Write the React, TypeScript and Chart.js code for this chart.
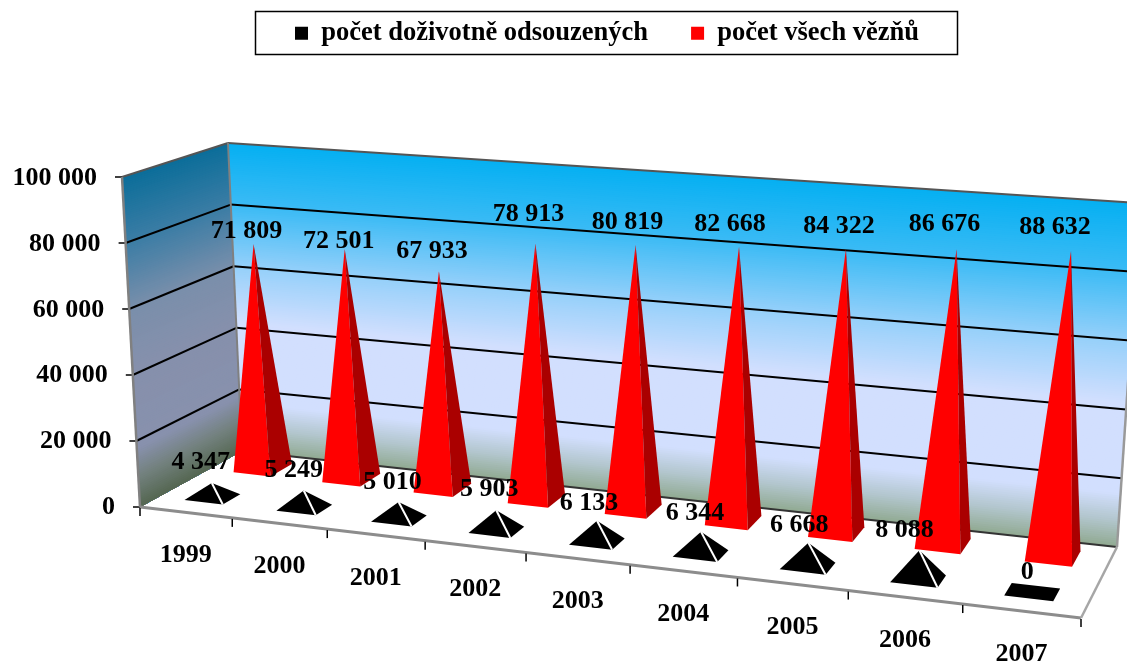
import React, { useEffect, useRef } from "react";
import { Chart, registerables, BarController } from "chart.js";

const years = ["1999", "2000", "2001", "2002", "2003", "2004", "2005", "2006", "2007"];
const lifers = [4347, 5249, 5010, 5903, 6133, 6344, 6668, 8088, 0];
const prisoners = [71809, 72501, 67933, 78913, 80819, 82668, 84322, 86676, 88632];

const FONT = "bold 26px 'Liberation Serif'";
const W = 1127;
const H = 664;

// corners of the 3D box on the canvas
const F0 = [140, 507], F1 = [1081, 618], B1 = [1117, 547], B0 = [242, 451];
const T0 = [122, 177], T1 = [1105, 248], TB1 = [1140, 203], TB0 = [228, 143];
const PERSPECTIVE = 1.15;
const APEX_SCALE = 0.992;

const lerp = (a: number[], b: number[], k: number) => [a[0] + (b[0] - a[0]) * k, a[1] + (b[1] - a[1]) * k];
function project(u: number, v: number, h: number) {
  const t = u / (u + PERSPECTIVE * (1 - u));
  const floor = lerp(lerp(F0, F1, t), lerp(B0, B1, t), v);
  const top = lerp(lerp(T0, T1, t), lerp(TB0, TB1, t), v);
  return lerp(floor, top, h);
}
const fmt = (n: number) => String(n).replace(/\B(?=(\d{3})+$)/g, " ");

const backStops: [number, number[]][] = [
  [1, [6, 176, 242]], [0.8, [60, 187, 245]], [0.6, [150, 208, 250]], [0.42, [210, 223, 254]],
  [0.16, [210, 223, 254]], [0.08, [178, 198, 205]], [0, [143, 168, 142]],
];
const sideStops: [number, number[]][] = [
  [1, [12, 110, 154]], [0.8, [60, 125, 165]], [0.6, [122, 143, 171]], [0.42, [134, 144, 172]],
  [0.18, [136, 145, 173]], [0.1, [116, 130, 128]], [0, [84, 102, 80]],
];
function colorAt(stops: [number, number[]][], h: number) {
  for (let i = 0; i < stops.length - 1; i++) {
    const [a, ca] = stops[i];
    const [b, cb] = stops[i + 1];
    if (h <= a && h >= b) {
      const k = (a - h) / (a - b);
      return `rgb(${ca.map((c, j) => Math.round(c + (cb[j] - c) * k)).join(",")})`;
    }
  }
  return "rgb(0,0,0)";
}
function poly(ctx: CanvasRenderingContext2D, pts: number[][], fill: string) {
  ctx.beginPath();
  pts.forEach((p, i) => (i ? ctx.lineTo(p[0], p[1]) : ctx.moveTo(p[0], p[1])));
  ctx.closePath();
  ctx.fillStyle = fill;
  ctx.fill();
}
function line(ctx: CanvasRenderingContext2D, a: number[], b: number[], color: string, w: number) {
  ctx.beginPath();
  ctx.moveTo(a[0], a[1]);
  ctx.lineTo(b[0], b[1]);
  ctx.strokeStyle = color;
  ctx.lineWidth = w;
  ctx.stroke();
}

class PyramidController extends BarController {
  static id = "pyramid";
  draw() {
    const chart = this.chart;
    const ctx = chart.ctx;
    const ds: any = this.getDataset();
    const xs = chart.scales.x;
    const ys = chart.scales.y;
    const [v0, v1] = ds.depth;
    this._cachedMeta.data.forEach((el: any) => {
      const u = (el.x - xs.left) / xs.width;
      const du = el.width / 2 / xs.width;
      const h = ((el.base - el.y) / (ys.bottom - ys.top)) * APEX_SCALE;
      const fl = project(u - du, v0, 0);
      const fr = project(u + du, v0, 0);
      const br = project(u + du, v1, 0);
      const bl = project(u - du, v1, 0);
      const apex = project(u, (v0 + v1) / 2, h);
      if (h <= 0) {
        poly(ctx, [fl, fr, br, bl], ds.backgroundColor);
        return;
      }
      poly(ctx, [fl, fr, apex], ds.backgroundColor);
      poly(ctx, [fr, br, apex], ds.sideColor);
      if (ds.edgeColor) line(ctx, fr, apex, ds.edgeColor, 2);
    });
  }
}

const walls = {
  id: "walls",
  afterLayout(chart: any) {
    const lg = chart.legend;
    lg.left -= 4;
    lg.right -= 4;
    lg.top = -23;
  },
  beforeDatasetsDraw(chart: any) {
    const ctx: CanvasRenderingContext2D = chart.ctx;
    ctx.save();
    poly(ctx, [F0, F1, B1, B0], "#ffffff");
    const steps = 160;
    for (let i = 0; i <= steps; i++) {
      const h = 1 - i / steps;
      poly(ctx, [project(0, 1, h), project(1, 1, h), project(1, 1, 0), project(0, 1, 0)], colorAt(backStops, h));
      poly(ctx, [project(0, 0, h), project(0, 1, h), project(0, 1, 0), project(0, 0, 0)], colorAt(sideStops, h));
    }
    const ys = chart.scales.y;
    const span = ys.max - ys.min;
    ys.ticks.forEach((tick: any) => {
      const h = (tick.value - ys.min) / span;
      const a = project(0, 0, h), b = project(0, 1, h), c = project(1, 1, h);
      if (h > 0 && h < 1) {
        line(ctx, a, b, "#000000", 2);
        line(ctx, b, c, "#000000", 2);
      }
      if (h === 1) {
        line(ctx, a, b, "#555555", 2);
        line(ctx, b, c, "#555555", 2);
      }
      line(ctx, [a[0] - 7, a[1]], a, "#000000", 1.5);
      ctx.font = FONT;
      ctx.fillStyle = "#000000";
      ctx.textAlign = "right";
      ctx.textBaseline = "middle";
      ctx.fillText(fmt(tick.value), a[0] - 25, ys.getPixelForValue(tick.value));
    });
    // edges
    line(ctx, project(0, 1, 0), project(1, 1, 0), "#333333", 2);
    line(ctx, project(0, 0, 0), project(0, 0, 1), "#808080", 2.5);
    line(ctx, project(0, 1, 0), project(0, 1, 1), "#808080", 2);
    line(ctx, project(1, 1, 0), project(1, 1, 1), "#999999", 2.5);
    line(ctx, F0, F1, "#8c8c8c", 3);
    line(ctx, F1, B1, "#a6a6a6", 2.5);
    const n = chart.data.labels.length;
    for (let i = 0; i <= n; i++) {
      const p = project(i / n, 0, 0);
      line(ctx, [p[0], p[1] + 1], [p[0], p[1] + 9], "#000000", 1.5);
    }
    ctx.restore();
  },
  afterDatasetsDraw(chart: any) {
    const ctx: CanvasRenderingContext2D = chart.ctx;
    ctx.save();
    ctx.font = FONT;
    ctx.fillStyle = "#000000";
    ctx.textAlign = "center";
    ctx.textBaseline = "middle";
    const xs = chart.scales.x;
    const ys = chart.scales.y;
    chart.data.labels.forEach((lab: string, i: number) => {
      const p = project((xs.getPixelForValue(i) - xs.left) / xs.width, 0, 0);
      ctx.fillText(lab, p[0], p[1] + 43);
    });
    chart.data.datasets.forEach((ds: any, di: number) => {
      chart.getDatasetMeta(di).data.forEach((el: any, i: number) => {
        const u = (el.x - xs.left) / xs.width;
        const h = ((el.base - el.y) / (ys.bottom - ys.top)) * APEX_SCALE;
        const p = project(u, (ds.depth[0] + ds.depth[1]) / 2, h);
        const [dx, dy] = ds.labelShift[i];
        ctx.fillText(fmt(ds.data[i]), p[0] + dx, p[1] + dy);
      });
    });
    ctx.restore();
  },
  afterDraw(chart: any) {
    const ctx: CanvasRenderingContext2D = chart.ctx;
    ctx.save();
    ctx.strokeStyle = "#000000";
    ctx.lineWidth = 1.5;
    ctx.strokeRect(255.5, 11.5, 702, 43);
    ctx.restore();
  },
};

const blackLabelShift = [[-11, -21], [-10, -20], [-6, -20], [-7, -21], [-8, -18], [-6, -19], [-9, -18], [-15, -20], [-5, -20]];
const redLabelShift = [[-7, -12.5], [-6, -7.5], [-7, -19.5], [-7, -29], [-8, -22.5], [-9, -22], [-7, -22.5], [-12, -25], [-16, -24]];

Chart.register(...registerables, PyramidController);

export default function App() {
  const ref = useRef<HTMLCanvasElement>(null);
  useEffect(() => {
    const chart = new Chart(ref.current!, {
      type: "pyramid" as any,
      data: {
        labels: years,
        datasets: [
          { label: "počet doživotně odsouzených", data: lifers, backgroundColor: "#000000", sideColor: "#000000", edgeColor: "#ffffff", depth: [0.18, 0.36], labelShift: blackLabelShift, clip: false } as any,
          { label: "počet všech vězňů", data: prisoners, backgroundColor: "#ff0000", sideColor: "#aa0000", depth: [0.67, 0.89], labelShift: redLabelShift, clip: false } as any,
        ],
      },
      options: {
        responsive: false,
        animation: false,
        grouped: false,
        barPercentage: 0.42,
        categoryPercentage: 1,
        layout: { padding: { left: 140, right: 45, top: 99, bottom: 157 } },
        scales: {
          x: { type: "category", display: false, offset: true, grid: { display: false } },
          y: { type: "linear", display: false, min: 0, max: 100000, ticks: { stepSize: 20000 }, grid: { display: false } },
        },
        plugins: {
          tooltip: { enabled: false },
          legend: {
            position: "top",
            labels: {
              boxWidth: 13,
              boxHeight: 13,
              padding: 43,
              color: "#000000",
              font: { family: "'Liberation Serif'", size: 26.5, weight: "bold", lineHeight: 1 },
            },
          },
        },
      } as any,
      plugins: [walls],
    });
    return () => chart.destroy();
  }, []);
  return (
    <div style={{ position: "fixed", left: 0, top: 0 }}>
      <canvas ref={ref} width={W} height={H} style={{ display: "block" }} />
    </div>
  );
}
